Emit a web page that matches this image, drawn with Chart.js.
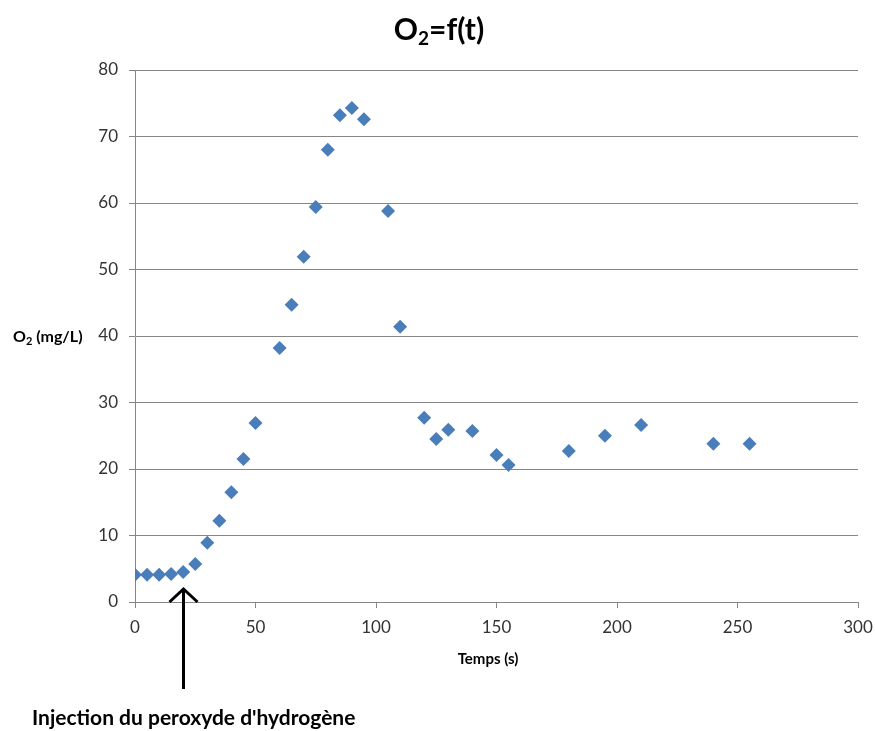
<!DOCTYPE html>
<html>
<head>
<meta charset="utf-8">
<script src="https://cdn.jsdelivr.net/npm/chart.js@4/dist/chart.umd.min.js"></script>
<style>
  html, body { margin: 0; padding: 0; background: #ffffff; }
  #wrap { width: 875px; height: 731px; }
</style>
</head>
<body>
<div id="wrap"><canvas id="c" width="875" height="731"></canvas></div>
<script>
// Data
const timeSeconds = [0, 5, 10, 15, 20, 25, 30, 35, 40, 45, 50, 60, 65, 70, 75, 80, 85, 90, 95, 105, 110, 120, 125, 130, 140, 150, 155, 180, 195, 210, 240, 255];
const oxygenMgL  = [4.1, 4.1, 4.1, 4.2, 4.5, 5.7, 8.9, 12.2, 16.5, 21.5, 26.9, 38.2, 44.7, 51.9, 59.4, 68.0, 73.2, 74.3, 72.6, 58.8, 41.4, 27.7, 24.5, 25.9, 25.7, 22.1, 20.6, 22.7, 25.0, 26.6, 23.8, 23.8];
const xTicks = [0, 50, 100, 150, 200, 250, 300];
const yTicks = [0, 10, 20, 30, 40, 50, 60, 70, 80];
const injectionTime = 20;
const titleMain = ['O', '2', '=f(t)'];
const yTitleParts = ['O', '2', ' (mg/L)'];
const xTitle = 'Temps (s)';
const annotationText = "Injection du peroxyde d'hydrogène";

const FONT = "Lato, 'Open Sans', sans-serif";

function drawSub(ctx, parts, x, y, size, subSize, align) {
  ctx.save();
  ctx.textBaseline = 'middle';
  ctx.font = 'bold ' + size + 'px ' + FONT;
  const w0 = ctx.measureText(parts[0]).width;
  const w2 = ctx.measureText(parts[2]).width;
  ctx.font = 'bold ' + subSize + 'px ' + FONT;
  const w1 = ctx.measureText(parts[1]).width;
  const total = w0 + w1 + w2;
  let sx = align === 'center' ? x - total / 2 : x;
  ctx.textAlign = 'left';
  ctx.font = 'bold ' + size + 'px ' + FONT;
  ctx.fillText(parts[0], sx, y);
  ctx.font = 'bold ' + subSize + 'px ' + FONT;
  ctx.fillText(parts[1], sx + w0, y + size * 0.28);
  ctx.font = 'bold ' + size + 'px ' + FONT;
  ctx.fillText(parts[2], sx + w0 + w1, y);
  ctx.restore();
}

const textPlugin = {
  id: 'texts',
  afterDraw(chart) {
    const ctx = chart.ctx;
    const xs = chart.scales.x;
    ctx.fillStyle = '#000';
    // main title
    drawSub(ctx, titleMain, 439, 30, 30, 19, 'center');
    // y-axis title (horizontal)
    drawSub(ctx, yTitleParts, 13, 337, 16, 11, 'left');
    // x-axis title
    ctx.save();
    ctx.font = 'bold 15px ' + FONT;
    ctx.textAlign = 'center';
    ctx.textBaseline = 'middle';
    ctx.fillText(xTitle, 488, 659);
    // annotation
    ctx.font = 'bold 21px ' + FONT;
    ctx.textAlign = 'left';
    ctx.fillText(annotationText, 32, 718);
    // arrow
    const ax = Math.round(xs.getPixelForValue(injectionTime)) + 0.5;
    ctx.strokeStyle = '#000';
    ctx.lineWidth = 3;
    ctx.beginPath();
    ctx.moveTo(ax, 589);
    ctx.lineTo(ax, 689);
    ctx.stroke();
    ctx.beginPath();
    ctx.moveTo(ax - 14, 602);
    ctx.lineTo(ax, 589);
    ctx.lineTo(ax + 14, 602);
    ctx.stroke();
    ctx.restore();
  }
};

new Chart(document.getElementById('c'), {
  type: 'scatter',
  data: {
    datasets: [{
      label: 'O2',
      data: timeSeconds.map((t, i) => ({ x: t, y: oxygenMgL[i] })),
      pointStyle: 'rectRot',
      pointRadius: 7,
      pointHoverRadius: 7,
      backgroundColor: '#4a7ebb',
      borderColor: '#4a7ebb',
      borderWidth: 0
    }]
  },
  options: {
    responsive: false,
    animation: false,
    events: [],
    layout: { padding: { top: 70, right: 17, bottom: 0, left: 0 } },
    plugins: {
      legend: { display: false },
      title: { display: false },
      tooltip: { enabled: false }
    },
    scales: {
      x: {
        type: 'linear',
        min: 0, max: 300,
        afterFit(s) { s.height = 129; s.paddingLeft = 0; s.paddingRight = 0; },
        afterBuildTicks(s) { s.ticks = xTicks.map(v => ({ value: v })); },
        grid: { drawOnChartArea: false, color: '#868686', tickLength: 6, tickColor: '#868686' },
        border: { color: '#868686', width: 1 },
        ticks: { color: '#333', padding: 9, font: { family: FONT, size: 17 } }
      },
      y: {
        type: 'linear',
        min: 0, max: 80,
        afterFit(s) { s.width = 135; s.paddingTop = 0; s.paddingBottom = 0; },
        afterBuildTicks(s) { s.ticks = yTicks.map(v => ({ value: v })); },
        grid: { color: '#868686', tickLength: 6, tickColor: '#868686' },
        border: { color: '#868686', width: 1 },
        ticks: { color: '#333', padding: 11, font: { family: FONT, size: 17 } }
      }
    }
  },
  plugins: [textPlugin]
});
</script>
</body>
</html>
